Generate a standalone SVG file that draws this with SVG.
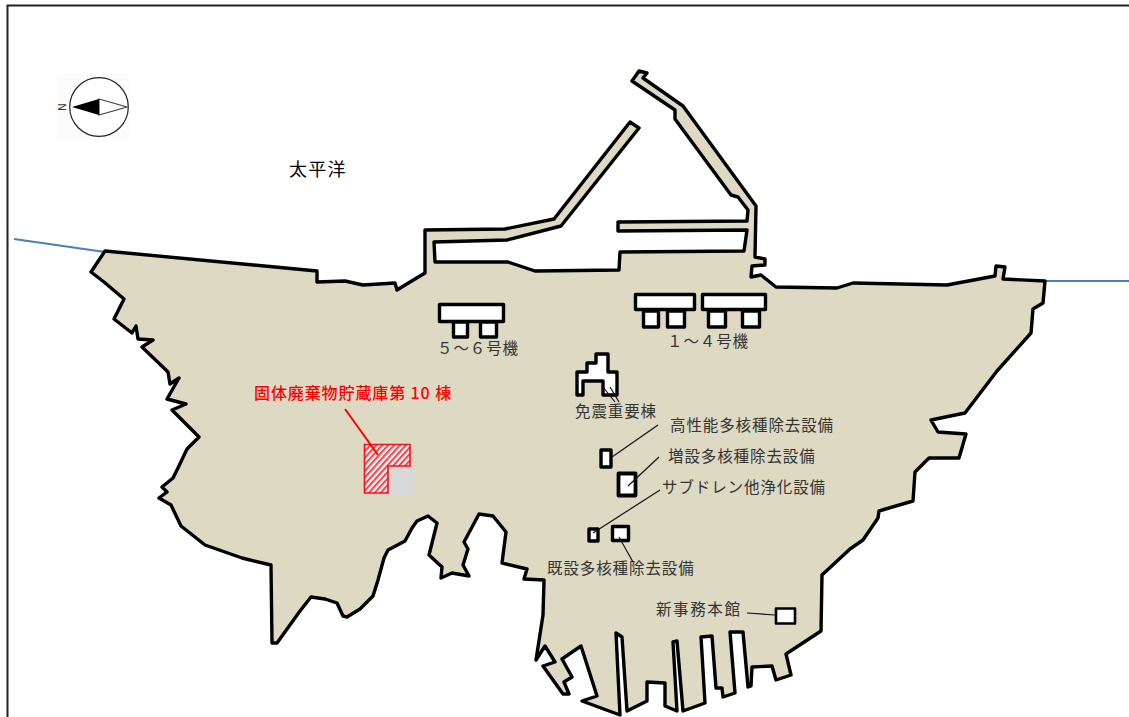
<svg xmlns="http://www.w3.org/2000/svg" width="1129" height="717" viewBox="0 0 1129 717">
<style>
.lbl{font-family:"Noto Sans CJK JP","Noto Sans",sans-serif;font-size:15.5px;letter-spacing:.9px;fill:#333}
.b{fill:#fff;stroke:#000;stroke-width:3.4;stroke-linejoin:round}
.ln{fill:none;stroke:#111;stroke-width:1.2}
</style>
<defs>
<pattern id="hatch" width="4.4" height="4.4" patternUnits="userSpaceOnUse" patternTransform="rotate(-48)">
<rect width="4.4" height="4.4" fill="#fff"/><rect width="4.4" height="2.200" fill="#f8474f"/>
</pattern>
</defs>
<rect width="1129" height="717" fill="#fff"/>
<path id="frame" d="M7.500 717V5.500H1129" fill="none" stroke="#222" stroke-width="2"/>
<g id="coast-lines" fill="none" stroke="#4a7ebb" stroke-width="2.200">
<path d="M14 239L105 252"/><path d="M1045 281H1129"/>
</g>
<g id="site">
<path fill="#ddd9c3" stroke="#000" stroke-width="3.400" stroke-linejoin="round" d="M105 251L317 271L317 282L345 281L363 285L395 283L397 290L410 282L425 273L425 230L505 229L554 219L630 122L639 128L561 226L507 240L434 242L435 262L508 262L535 271L619 270L620 252L744 251L747 230L618 231L618 222L747 221L748 210L738 197L731 195L675 119L675 110L632 81L639 71L647 73L643 78L683 106L756 206L755 257L765 259L765 265L752 266L751 277L761 275L776 287L837 288L853 283L947 285L995 276L996 266L1005 267L1003 279L1045 281L1043 303L1033 309L1031 333L997 371L965 413L931 420L938 432L966 434L959 458L929 458L915 472L913 501L879 511L878 518L863 540L850 549L822 575L821 631L786 654L791 675L776 680L772 666L752 667L751 686L748 687L743 632L730 632L735 693L723 697L722 688L716 688L712 636L701 637L705 703L683 711L677 641L673 642L677 711L665 706L665 683L647 682L647 701L627 711L622 637L616 633L620 715L582 701L597 696L581 646L562 659L572 677L564 682L569 694L563 694L543 666L555 662L545 646L536 660L543 615L544 580L524 579L527 569L502 563L506 532L493 516L479 514L464 542L468 549L463 565L469 576L452 573L441 578L442 567L429 555L437 523L428 516L417 521L412 528L405 541L388 550L384 558L378 580L373 596L360 609L347 617L343 616L337 603L325 599L311 597L300 611L277 643L272 643L271 565L242 558L205 545L181 526L171 505L159 498L167 492L162 487L173 478L177 470L187 449L199 437L172 410L186 404L167 399L179 378L170 384L168 372L142 347L153 340L138 339L136 326L132 333L114 319L124 299L104 282L91 272Z"/>
</g>
<g id="compass">
<rect x="57" y="73" width="72" height="67" fill="#fcfcfc"/>
<circle cx="99" cy="107" r="29.300" fill="#fff" stroke="#222" stroke-width="1.200"/>
<path d="M99 99L127 107L99 115Z" fill="#fff" stroke="#444" stroke-width="1.200"/>
<path d="M72 107L99 99V115Z" fill="#000"/>
<text x="62" y="107" transform="rotate(-90 62 107)" text-anchor="middle" dy="3.500" font-family="Liberation Sans,sans-serif" font-size="10" fill="#333">N</text>
</g>
<text id="pacific" x="289" y="176" font-family="Noto Sans CJK JP,sans-serif" font-size="18" letter-spacing="1.300" fill="#000">太平洋</text>
<g id="units56">
<rect class="b" x="439.500" y="304.500" width="64" height="17"/>
<rect class="b" x="453.500" y="322" width="14" height="15"/>
<rect class="b" x="480.500" y="322" width="16" height="15"/>
<text class="lbl" x="437" y="354">５～６号機</text>
</g>
<g id="units14">
<rect class="b" x="635.500" y="294.500" width="59" height="15"/>
<rect class="b" x="702.500" y="294.500" width="63" height="15"/>
<rect class="b" x="643.500" y="311" width="15" height="16"/>
<rect class="b" x="667.500" y="311" width="17" height="16"/>
<rect class="b" x="708.500" y="311" width="17" height="16"/>
<rect class="b" x="742.500" y="311" width="17" height="16"/>
<text class="lbl" x="667" y="347">１～４号機</text>
</g>
<g id="seismic-building">
<path class="b" d="M577 395V372H587V363H596V354H608V372H617V395H603V381H583V395Z"/>
<text class="lbl" x="575" y="416.500">免震重要棟</text>
</g>
<g id="alps-high">
<rect class="b" x="601" y="450" width="10" height="17"/>
<text class="lbl" x="670" y="430.500">高性能多核種除去設備</text>
</g>
<g id="alps-add">
<rect class="b" x="618.500" y="473.500" width="17" height="22" style="stroke-width:3.800"/>
<text class="lbl" x="668" y="461.500">増設多核種除去設備</text>
</g>
<g id="subdrain">
<rect class="b" x="589" y="529" width="9" height="12"/>
<text class="lbl" x="662" y="492.500">サブドレン他浄化設備</text>
</g>
<g id="alps-old">
<rect class="b" x="612.500" y="526.500" width="16" height="14"/>
<text class="lbl" x="547" y="573.500">既設多核種除去設備</text>
</g>
<g id="new-office">
<rect class="b" x="776" y="608.500" width="19" height="15" style="stroke-width:2.600"/>
<text class="lbl" x="656" y="614.500" style="letter-spacing:1.600px">新事務本館</text>
</g>
<g id="storage">
<rect x="388" y="466" width="25" height="30" fill="#d9d9d9"/>
<path d="M364.500 444.500H410V466H388V493H364.500Z" fill="url(#hatch)" stroke="#f5101a" stroke-width="1.600"/>
<text x="254" y="399" font-family="Noto Sans CJK JP,sans-serif" font-size="16" font-weight="500" letter-spacing=".9" fill="#f00">固体廃棄物貯蔵庫第 10 棟</text>
</g>
<g id="connectors">
<path class="ln" d="M603 387L615 402M610 387L619 402"/>
<path class="ln" d="M612 457L658 425"/>
<path class="ln" d="M628 486L659 457"/>
<path class="ln" d="M593 533L660 490"/>
<path class="ln" d="M619 537L633 562"/>
<path class="ln" d="M747 613L775 615"/>
<path d="M345 409L378 455" fill="none" stroke="#f00" stroke-width="2"/>
</g>
</svg>
